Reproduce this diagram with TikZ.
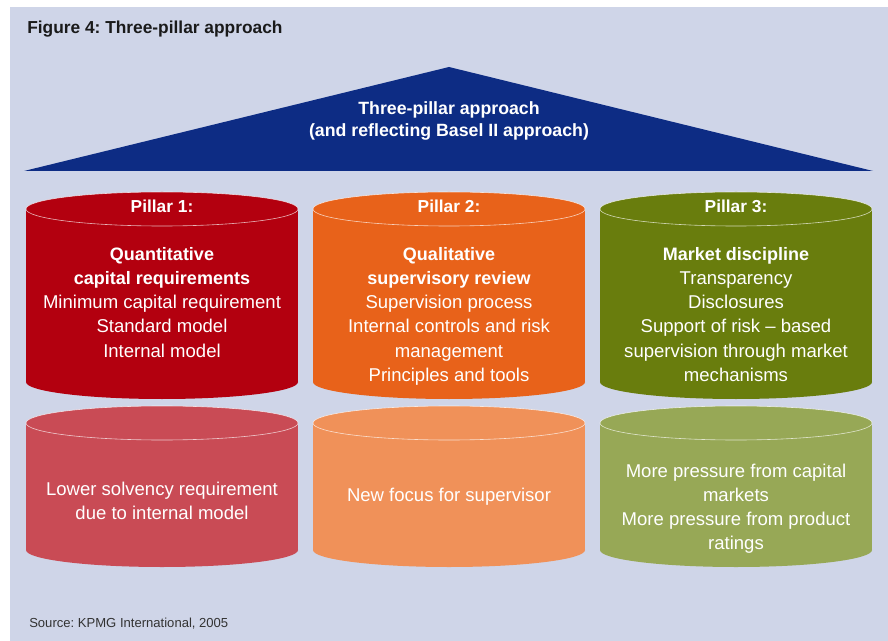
\documentclass[tikz,border=0pt]{standalone}
\usepackage{fontspec}
\setmainfont{Liberation Sans}
\frenchspacing
\definecolor{bgc}{HTML}{CFD5E8}
\definecolor{tric}{HTML}{0D2C84}
\definecolor{pa}{HTML}{B3000F}
\definecolor{pab}{HTML}{C94B55}
\definecolor{pb}{HTML}{E8621A}
\definecolor{pbb}{HTML}{F09159}
\definecolor{pc}{HTML}{697D0D}
\definecolor{pcb}{HTML}{97A856}
\definecolor{titlec}{HTML}{1A1A1A}
\definecolor{srcc}{HTML}{333333}
\newcommand\pillarcyl[4]{%
  \fill[#4] (#1-136,#2) rectangle (#1+136,#3);
  \fill[#4] (#1,#3) ellipse [x radius=136, y radius=17];
  \fill[#4] (#1,#2) ellipse [x radius=136, y radius=17];
  \draw[rimline] (#1,#2) ellipse [x radius=136, y radius=17];
}
\tikzset{
  rimline/.style={draw=white, draw opacity=0.7, line width=0.45pt},
  txt/.style={text=white, inner sep=0pt, anchor=base, font=\fontsize{13.9pt}{18pt}\selectfont},
  btxt/.style={txt, font=\fontsize{13.5pt}{18pt}\selectfont\bfseries},
  head/.style={txt, font=\fontsize{13pt}{18pt}\selectfont\bfseries},
  tritxt/.style={txt, font=\fontsize{13.3pt}{16pt}\selectfont\bfseries},
}
\begin{document}
\begin{tikzpicture}[x=0.75pt,y=-0.75pt]
\useasboundingbox (0,0) rectangle (888,641);
\fill[bgc] (10,7) rectangle (888,641);
\node[inner sep=0pt, anchor=base west, text=titlec, font=\fontsize{13pt}{15pt}\selectfont\bfseries] (title) at (27,34) {Figure 4: Three-pillar approach};
% roof
\fill[tric] (24,171) -- (449,67) -- (873,171) -- cycle;
\node[tritxt] (r1) at (449,115) {Three-pillar approach};
\node[tritxt] (r2) at (449,137) {(and reflecting Basel II approach)};
% cylinders
\pillarcyl{162}{209}{382}{pa}
\pillarcyl{449}{209}{382}{pb}
\pillarcyl{736}{209}{382}{pc}
\pillarcyl{162}{423}{550}{pab}
\pillarcyl{449}{423}{550}{pbb}
\pillarcyl{736}{423}{550}{pcb}
% pillar 1
\node[head] (a0) at (162,213) {Pillar 1:};
\node[btxt] (a1) at (162,261) {Quantitative};
\node[btxt] (a2) at (162,285) {capital requirements};
\node[txt] (a3) at (162,309) {Minimum capital requirement};
\node[txt] (a4) at (162,333) {Standard model};
\node[txt] (a5) at (162,357) {Internal model};
% pillar 2
\node[head] (b0) at (449,213) {Pillar 2:};
\node[btxt] (b1) at (449,261) {Qualitative};
\node[btxt] (b2) at (449,285) {supervisory review};
\node[txt] (b3) at (449,309) {Supervision process};
\node[txt] (b4) at (449,333) {Internal controls and risk};
\node[txt] (b5) at (449,357) {management};
\node[txt] (b6) at (449,381) {Principles and tools};
% pillar 3
\node[head] (c0) at (736,213) {Pillar 3:};
\node[btxt] (c1) at (736,261) {Market discipline};
\node[txt] (c2) at (736,285) {Transparency};
\node[txt] (c3) at (736,309) {Disclosures};
\node[txt] (c4) at (736,333) {Support of risk -- based};
\node[txt] (c5) at (736,357) {supervision through market};
\node[txt] (c6) at (736,381) {mechanisms};
% bottom row
\node[txt] (d1) at (162,495) {Lower solvency requirement};
\node[txt] (d2) at (162,519) {due to internal model};
\node[txt] (e1) at (449,501) {New focus for supervisor};
\node[txt] (f1) at (736,477) {More pressure from capital};
\node[txt] (f2) at (736,501) {markets};
\node[txt] (f3) at (736,525) {More pressure from product};
\node[txt] (f4) at (736,549) {ratings};
% source
\node[inner sep=0pt, anchor=base west, text=srcc, font=\fontsize{9.8pt}{12pt}\selectfont] (src) at (29,627) {Source: KPMG International, 2005};
\end{tikzpicture}
\end{document}
